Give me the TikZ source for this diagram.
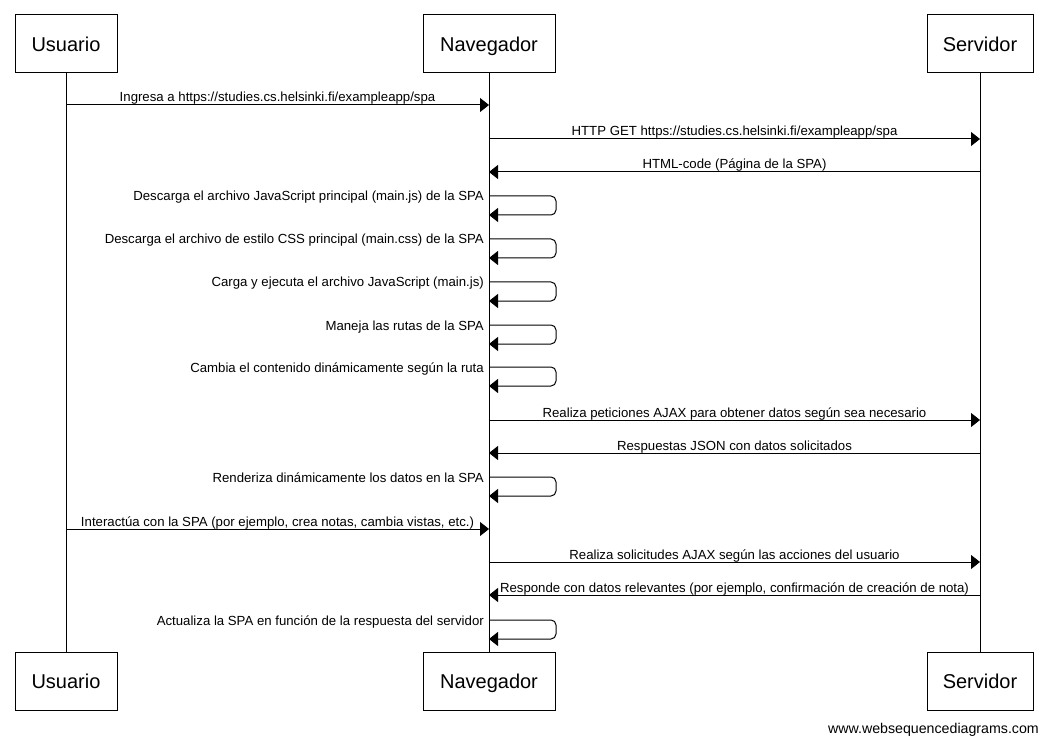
\documentclass[tikz,border=0pt]{standalone}
\usepackage{fontspec}
\setmainfont{Liberation Sans}
\usetikzlibrary{arrows.meta,calc}
\begin{document}
\begin{tikzpicture}[x=1pt,y=-1pt,
  actor/.style={draw,line width=1pt,fill=white,minimum height=58pt,inner sep=0pt,text height=14.4pt,text depth=0pt,font=\fontsize{20}{24}\selectfont},
  life/.style={line width=1pt},
  msg/.style={line width=1pt,-{Triangle[length=9pt,width=14pt]}},
  lbl/.style={anchor=base,inner sep=0pt,yshift=3pt,font=\fontsize{13.2}{15}\selectfont},
  selflbl/.style={anchor=base east,inner sep=0pt,font=\fontsize{13.2}{15}\selectfont},
  loop/.style={line width=1pt,rounded corners=5pt,-{Triangle[length=9pt,width=14pt]}}
]
\useasboundingbox[fill=white] (0,0) rectangle (1049,743);
% lifeline coordinates
\coordinate (ut) at (66,73);  \coordinate (ub) at (66,652);
\coordinate (nt) at (489,73); \coordinate (nb) at (489,652);
\coordinate (st) at (980,73); \coordinate (sb) at (980,652);
\draw[life] (ut) -- (ub);
\draw[life] (nt) -- (nb);
\draw[life] (st) -- (sb);
% actors
\node[actor,minimum width=102pt] (U) at (66,44) {Usuario};
\node[actor,minimum width=132pt] (N) at (489,44) {Navegador};
\node[actor,minimum width=106pt] (S) at (980,44) {Servidor};
\node[actor,minimum width=102pt] (U2) at (66,681) {Usuario};
\node[actor,minimum width=132pt] (N2) at (489,681) {Navegador};
\node[actor,minimum width=106pt] (S2) at (980,681) {Servidor};
% message rows
\foreach \n/\y in {m1/105,m2/139,m3/172,m4/420,m5/453,m6/529,m7/562,m8/595}{\coordinate (\n) at (0,\y);}
\draw[msg] (U |- m1) -- node[lbl]{Ingresa a https://studies.cs.helsinki.fi/exampleapp/spa} (N |- m1);
\draw[msg] (N |- m2) -- node[lbl]{HTTP GET https://studies.cs.helsinki.fi/exampleapp/spa} (S |- m2);
\draw[msg] (S |- m3) -- node[lbl]{HTML-code (Página de la SPA)} (N |- m3);
\draw[msg] (N |- m4) -- node[lbl]{Realiza peticiones AJAX para obtener datos según sea necesario} (S |- m4);
\draw[msg] (S |- m5) -- node[lbl]{Respuestas JSON con datos solicitados} (N |- m5);
\draw[msg] (U |- m6) -- node[lbl]{Interactúa con la SPA (por ejemplo, crea notas, cambia vistas, etc.)} (N |- m6);
\draw[msg] (N |- m7) -- node[lbl]{Realiza solicitudes AJAX según las acciones del usuario} (S |- m7);
\draw[msg] (S |- m8) -- node[lbl]{Responde con datos relevantes (por ejemplo, confirmación de creación de nota)} (N |- m8);
% self loops
\foreach \n/\y/\t in {
  l1/196/{Descarga el archivo JavaScript principal (main.js) de la SPA},
  l2/239/{Descarga el archivo de estilo CSS principal (main.css) de la SPA},
  l3/282/{Carga y ejecuta el archivo JavaScript (main.js)},
  l4/325/{Maneja las rutas de la SPA},
  l5/367/{Cambia el contenido dinámicamente según la ruta},
  l6/477/{Renderiza dinámicamente los datos en la SPA},
  l7/620/{Actualiza la SPA en función de la respuesta del servidor}}{
  \coordinate (\n a) at (489,\y);
  \coordinate (\n b) at (489,\y+19);
  \draw[loop] (\n a) -- ++(67,0) |- (\n b);
  \node[selflbl] at ($(\n a)+(-5,5)$) {\t};
}
\node[anchor=base east,inner sep=0pt,font=\fontsize{14.2}{16}\selectfont] (wm) at (1039,733) {www.websequencediagrams.com};
\end{tikzpicture}
\end{document}
